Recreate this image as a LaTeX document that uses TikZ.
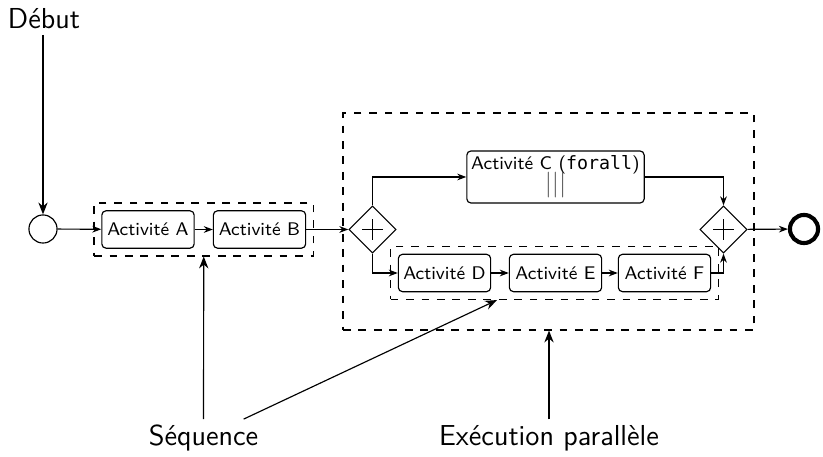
\documentclass[tikz,border=0pt]{standalone}
\usepackage{fontspec}
\setmonofont{DejaVu Sans Mono}
\renewcommand{\familydefault}{\sfdefault}
\usetikzlibrary{arrows.meta,shapes.geometric,fit,calc}
\begin{document}
\begin{tikzpicture}[x=0.388pt,y=-0.388pt,
  line width=0.45pt,
  lbl/.style={font=\fontsize{11.2}{13}\selectfont, inner sep=2pt},
  act/.style={draw, rounded corners=1.6pt, minimum width=35.8pt, minimum height=14.5pt,
    inner sep=1pt, font=\fontsize{7.1}{9}\selectfont},
  gate/.style={draw, diamond, aspect=1, minimum size=18.3pt, inner sep=0pt},
  dashbox/.style={draw, dashed, inner sep=2.8pt},
  arr/.style={-{Stealth[length=3.5pt,width=2.6pt]}},
  arrbig/.style={-{Stealth[length=4.6pt,width=3.6pt]}},
]
\useasboundingbox (0,0) rectangle (823,457);

% start / end events
\node[draw, circle, minimum size=10.9pt, inner sep=0pt] (start) at (43,229) {};
\node[lbl] (debut) at (44,19) {Début};
\node[draw, circle, minimum size=10.9pt, inner sep=0pt, line width=1.6pt] (stop) at (804,229) {};

% sequence A, B
\node[act] (A) at (148,229.5) {Activité A};
\node[act] (B) at (259.5,229.5) {Activité B};
\node[dashbox, fit=(A)(B)] (ab) {};

% parallel gateways
\node[gate] (g1) at (372.5,229.5) {};
\node[gate] (g2) at (723.5,229.5) {};
\foreach \g in {g1,g2}{
  \draw ($(\g.center)+(-3.9pt,0)$) -- ($(\g.center)+(3.9pt,0)$);
  \draw ($(\g.center)+(0,-3.9pt)$) -- ($(\g.center)+(0,3.9pt)$);
}

% upper branch
\node[act, minimum width=68.8pt, minimum height=20.2pt, align=center,
  font=\fontsize{7.1}{10}\selectfont] (C) at (555.5,177)
  {Activité C (\texttt{forall})\\[-1.5pt]{\color{black!65}\fontsize{10}{10}\selectfont|||}};

% lower branch
\node[act] (D) at (444.5,273) {Activité D};
\node[act] (E) at (555.5,273) {Activité E};
\node[act] (F) at (664.5,273) {Activité F};
\node[dashbox, fit=(D)(F)] (def) {};

% whole parallel block
\node[dashbox, inner sep=0pt, fit={(343,113) (754,330)}] (par) {};

% flow
\draw[arrbig] (start |- debut.south) -- (start);
\draw[arr] (start) -- (A);
\draw[arr] (A) -- (B);
\draw[arr] (B) -- (g1);
\draw[arr] (g1.north) |- (C);
\draw[arr] (C.east) -| (g2.north);
\draw[arr] (g1.south) |- (D);
\draw[arr] (D) -- (E);
\draw[arr] (E) -- (F);
\draw[arr] (F.east) -| (g2.south);
\draw[arr] (g2) -- (stop);

% annotations
\node[lbl] (seq) at (203.5,438) {Séquence};
\node[lbl] (exe) at (549,438) {Exécution parallèle};
\draw[arrbig] (seq.north) -- (ab.south);
\draw[arrbig] (seq) -- (def);
\draw[arrbig] (exe.north) -- (exe.north |- par.south);
\end{tikzpicture}
\end{document}
